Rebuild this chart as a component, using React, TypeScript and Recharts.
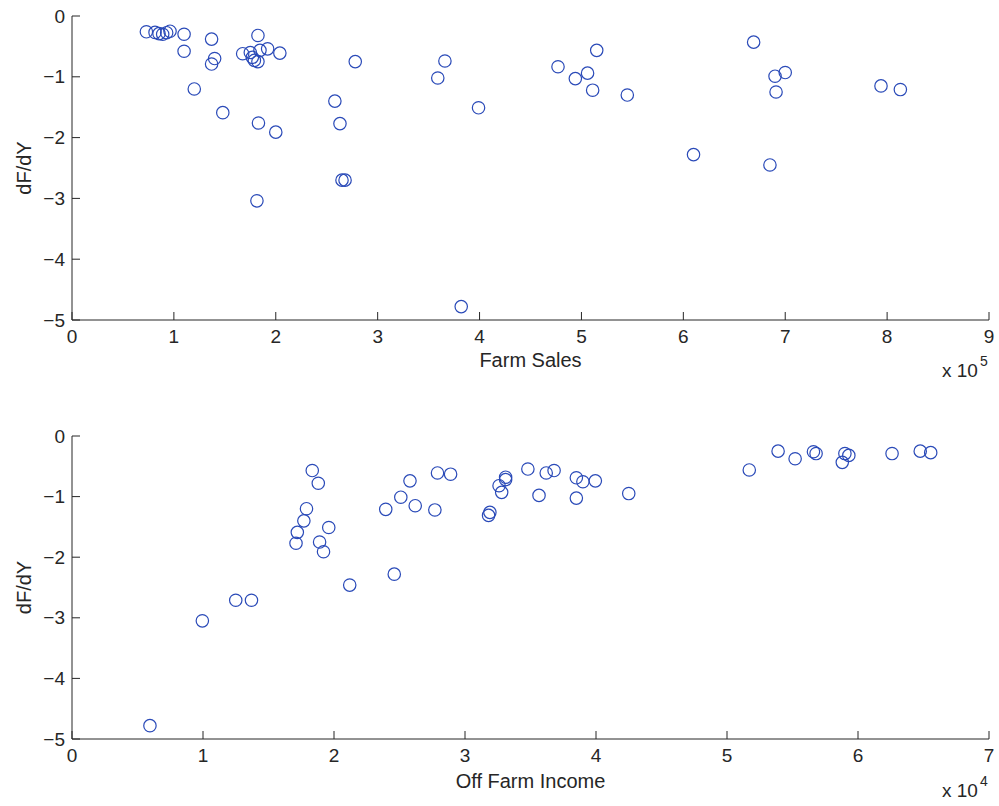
import { Label, Scatter, ScatterChart, XAxis, YAxis } from "recharts";

// Top panel: farm sales vs dF/dY
const farmSales = [
  73000, 81500, 85400, 89000, 92900, 96200, 110000, 110000, 137000, 140000, 137000, 120000,
  148000, 182500, 167500, 175000, 177000, 179000, 182500, 184500, 192000, 204000, 183000, 200000,
  181500, 258000, 263000, 265000, 268000, 278000, 366000, 359000, 399000, 477000, 494000, 506000,
  515000, 511000, 545000, 610000, 669000, 690000, 700000, 691000, 685000, 794000, 813000, 382000,
];
const dFdYSales = [
  -0.26, -0.27, -0.29, -0.3, -0.275, -0.25, -0.3, -0.58, -0.38, -0.7, -0.79, -1.2,
  -1.59, -0.32, -0.62, -0.6, -0.68, -0.73, -0.75, -0.565, -0.54, -0.61, -1.76, -1.91,
  -3.04, -1.4, -1.77, -2.7, -2.7, -0.75, -0.74, -1.02, -1.51, -0.835, -1.03, -0.94,
  -0.565, -1.22, -1.3, -2.28, -0.43, -0.99, -0.93, -1.25, -2.45, -1.15, -1.21, -4.78,
];

// Bottom panel: off farm income vs dF/dY
const offFarmIncome = [
  18340, 18800, 17900, 17700, 17200, 17100, 19600, 18900, 19200, 21200, 12500, 13700,
  9950, 5950, 24600, 23950, 25100, 25800, 26200, 27700, 27900, 28900, 31900, 31800,
  32600, 32800, 33100, 33100, 34800, 35650, 36200, 36800, 38500, 38500, 39000, 39950,
  42500, 51700, 53900, 55200, 56600, 56800, 59000, 59300, 58800, 62600, 64750, 65550,
];
const dFdYIncome = [
  -0.57, -0.78, -1.2, -1.4, -1.59, -1.77, -1.51, -1.75, -1.91, -2.46, -2.71, -2.71,
  -3.05, -4.78, -2.28, -1.21, -1.01, -0.74, -1.15, -1.22, -0.61, -0.63, -1.26, -1.31,
  -0.82, -0.93, -0.68, -0.72, -0.545, -0.98, -0.61, -0.57, -0.69, -1.025, -0.755, -0.74,
  -0.95, -0.56, -0.25, -0.375, -0.26, -0.29, -0.29, -0.32, -0.435, -0.29, -0.25, -0.275,
];

const salesTicks = [0, 100000, 200000, 300000, 400000, 500000, 600000, 700000, 800000, 900000];
const incomeTicks = [0, 10000, 20000, 30000, 40000, 50000, 60000, 70000];
const yTicks = [-5, -4, -3, -2, -1, 0];

const INK = "#262626";
const MARKER = "#2a4ab8";
const FONT = "'Liberation Sans', Arial, sans-serif";

const fmtNum = (v: number) => (v < 0 ? "\u2212" + Math.abs(v) : String(v));

const xTick = (scale: number) => (p: any) => (
  <g>
    <line x1={p.x} x2={p.x} y1={p.y} y2={p.y - 8} stroke={INK} strokeWidth={1} />
    <text x={p.x} y={p.y + 23} textAnchor="middle" fontSize={19} fontFamily={FONT} fill={INK}>
      {fmtNum(Math.round(p.payload.value / scale))}
    </text>
  </g>
);

const yTick = (p: any) => (
  <g>
    <line x1={p.x} x2={p.x + 8} y1={p.y} y2={p.y} stroke={INK} strokeWidth={1} />
    <text x={p.x - 7} y={p.y} dy="0.35em" textAnchor="end" fontSize={19} fontFamily={FONT} fill={INK}>
      {fmtNum(p.payload.value)}
    </text>
  </g>
);

const circle = (p: any) => (
  <circle cx={p.cx} cy={p.cy} r={6.2} fill="none" stroke={MARKER} strokeWidth={1.2} />
);

const exponent = (pow: string, dy: number) => (p: any) => {
  const vb = p.viewBox;
  return (
    <text x={vb.x + vb.width - 47} y={vb.y + dy} fontSize={19} fontFamily={FONT} fill={INK}>
      x 10
      <tspan dx={2} dy={-11} fontSize={14}>
        {pow}
      </tspan>
    </text>
  );
};

function Panel({
  xs,
  ys,
  ticks,
  scale,
  title,
  pow,
  height,
  top,
  xAxisHeight,
  titleOffset,
  expDy,
}: {
  xs: number[];
  ys: number[];
  ticks: number[];
  scale: number;
  title: string;
  pow: string;
  height: number;
  top: number;
  xAxisHeight: number;
  titleOffset: number;
  expDy: number;
}) {
  const data = xs.map((x, i) => ({ x, y: ys[i] }));
  return (
    <ScatterChart width={999} height={height} margin={{ top, right: 10, bottom: 0, left: 0 }}>
      <XAxis
        type="number"
        dataKey="x"
        domain={[ticks[0], ticks[ticks.length - 1]]}
        ticks={ticks}
        interval={0}
        height={xAxisHeight}
        axisLine={{ stroke: INK }}
        tickLine={false}
        tickSize={0}
        tickMargin={0}
        tick={xTick(scale)}
      >
        <Label
          value={title}
          position="insideTop"
          offset={titleOffset}
          style={{ fontSize: 20, fontFamily: FONT, fill: INK }}
        />
        <Label content={exponent(pow, expDy)} />
      </XAxis>
      <YAxis
        type="number"
        dataKey="y"
        domain={[-5, 0]}
        ticks={yTicks}
        interval={0}
        width={72}
        axisLine={{ stroke: INK }}
        tickLine={false}
        tickSize={0}
        tickMargin={0}
        tick={yTick}
      >
        <Label
          value="dF/dY"
          angle={-90}
          position="insideLeft"
          offset={24}
          style={{ fontSize: 20, fontFamily: FONT, fill: INK, textAnchor: "middle" }}
        />
      </YAxis>
      <Scatter data={data} shape={circle} isAnimationActive={false} />
    </ScatterChart>
  );
}

export default function App() {
  return (
    <div style={{ position: "absolute", left: 0, top: 0, width: 999, height: 806, background: "#fff" }}>
      <Panel
        xs={farmSales}
        ys={dFdYSales}
        ticks={salesTicks}
        scale={100000}
        title="Farm Sales"
        pow="5"
        height={400}
        top={16}
        xAxisHeight={80}
        titleOffset={33}
        expDy={57}
      />
      <Panel
        xs={offFarmIncome}
        ys={dFdYIncome}
        ticks={incomeTicks}
        scale={10000}
        title="Off Farm Income"
        pow="4"
        height={406}
        top={36}
        xAxisHeight={67}
        titleOffset={35}
        expDy={58}
      />
    </div>
  );
}
